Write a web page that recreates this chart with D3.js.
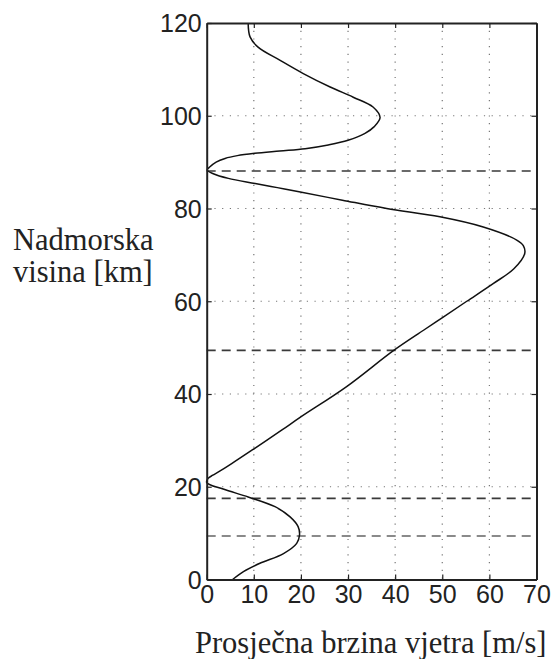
<!DOCTYPE html>
<html>
<head>
<meta charset="utf-8">
<script src="https://cdn.jsdelivr.net/npm/d3@7"></script>
<style>
  html, body { margin: 0; padding: 0; background: #fff; }
  svg { display: block; }
</style>
</head>
<body>
<svg id="chart" width="553" height="659"></svg>
<script>
// ---- data ----
const altitude = [0, 1.7, 3.5, 5.6, 7.8, 9.6, 11.4, 13.5, 15.7, 17.8, 19.5, 20.9, 21.8, 22.5, 23.2, 25.0, 28.3, 32.2, 35, 41.6, 49.4, 53.8, 56.6, 60, 63.8, 67, 70.3, 72, 73.2, 76, 78.2, 80, 81.8, 83.6, 84.5, 85.4, 86.5, 87.5, 88.3, 89.0, 90.0, 90.8, 91.4, 91.9, 92.4, 92.9, 93.7, 94.7, 96.2, 97.6, 99.6, 101.9, 104, 106.2, 109.1, 112, 114.8, 117, 120];
const speed    = [5.5, 7.8, 11.3, 16.3, 19.1, 19.7, 19.4, 17.7, 14.5, 8.8, 3.5, 0.0, 0.3, 1.3, 2.5, 5.3, 10.2, 15.9, 19.9, 29.7, 39.7, 46.1, 50.2, 55.2, 60.8, 65.2, 67.5, 67.2, 65.8, 58.7, 49.5, 38.2, 28.8, 19.6, 15.0, 10.3, 4.6, 1.4, 0.1, 0.7, 2.0, 3.9, 6.5, 10.2, 15.5, 20.9, 25.8, 30.0, 33.6, 35.5, 36.8, 35.3, 31.1, 26.2, 20.5, 15.5, 10.9, 9.2, 8.8];
const dashedLevels = [88.1, 49.4, 17.5, 9.4];
const dashedColors = ["#3a3a3a", "#3a3a3a", "#3a3a3a", "#8a8a8a"];
const xTicks = [0, 10, 20, 30, 40, 50, 60, 70];
const yTicks = [0, 20, 40, 60, 80, 100, 120];
const xTitle = "Prosječna brzina vjetra [m/s]";
const yTitle = ["Nadmorska", "visina [km]"];

// ---- layout ----
const L = 206.7, R = 536.5, T = 23, B = 579.5;
const svg = d3.select("#chart");
const x = d3.scaleLinear().domain([0, 70]).range([L, R]);
const y = d3.scaleLinear().domain([0, 120]).range([B, T]);

// grid (dotted)
const grid = svg.append("g").attr("stroke", "#777").attr("stroke-width", 1.2).attr("stroke-dasharray", "1.2,6.5");
grid.selectAll(".gx").data(xTicks.slice(1, -1)).join("line")
  .attr("x1", d => x(d)).attr("x2", d => x(d)).attr("y1", T).attr("y2", B);
grid.selectAll(".gy").data(yTicks.slice(1, -1)).join("line")
  .attr("y1", d => y(d)).attr("y2", d => y(d)).attr("x1", L).attr("x2", R);

// dashed reference lines
svg.append("g").selectAll("line").data(dashedLevels).join("line")
  .attr("x1", L).attr("x2", R)
  .attr("y1", d => y(d)).attr("y2", d => y(d))
  .attr("stroke", (d, i) => dashedColors[i])
  .attr("stroke-width", (d, i) => i === 3 ? 2 : 1.6)
  .attr("stroke-dasharray", "9,6");

// curve
const pts = altitude.map((a, i) => ({a, v: speed[i]}));
svg.append("path").datum(pts)
  .attr("fill", "none").attr("stroke", "#111").attr("stroke-width", 1.5)
  .attr("d", d3.line().x(d => x(d.v)).y(d => y(d.a)).curve(d3.curveCatmullRom.alpha(0.5)));

// axes (box with inward ticks on all sides)
const fontTick = "'Liberation Sans', Arial, sans-serif";
const axB = d3.axisBottom(x).tickValues(xTicks).tickSizeInner(-5).tickSizeOuter(0).tickPadding(6);
const axT = d3.axisTop(x).tickValues(xTicks).tickSizeInner(-5).tickSizeOuter(0).tickFormat("");
const axLft = d3.axisLeft(y).tickValues(yTicks).tickSizeInner(-5).tickSizeOuter(0).tickPadding(5);
const axRt = d3.axisRight(y).tickValues(yTicks).tickSizeInner(-5).tickSizeOuter(0).tickFormat("");

function style(g) {
  g.selectAll(".domain").attr("stroke", "#222").attr("stroke-width", 2);
  g.selectAll(".tick line").attr("stroke", "#222").attr("stroke-width", 1.2);
  g.selectAll("text").attr("font-family", fontTick).attr("font-size", 25).attr("fill", "#222");
}
svg.append("g").attr("transform", `translate(0,${B})`).call(axB).call(style)
  .selectAll("text").attr("dy", "0.71em");
svg.append("g").attr("transform", `translate(0,${T})`).call(axT).call(style);
svg.append("g").attr("transform", `translate(${L},0)`).call(axLft).call(style)
  .selectAll("text").attr("dy", "0.35em");
svg.append("g").attr("transform", `translate(${R},0)`).call(axRt).call(style);

// titles
const fontTitle = "'Liberation Serif', 'Times New Roman', serif";
svg.append("g").selectAll("text").data(yTitle).join("text")
  .attr("x", 13).attr("y", (d, i) => 250 + i * 32)
  .attr("font-family", fontTitle).attr("font-size", 30.5).attr("fill", "#222")
  .text(d => d);
svg.append("text")
  .attr("x", 195).attr("y", 653)
  .attr("font-family", fontTitle).attr("font-size", 30.5).attr("fill", "#222")
  .text(xTitle);
</script>
</body>
</html>
